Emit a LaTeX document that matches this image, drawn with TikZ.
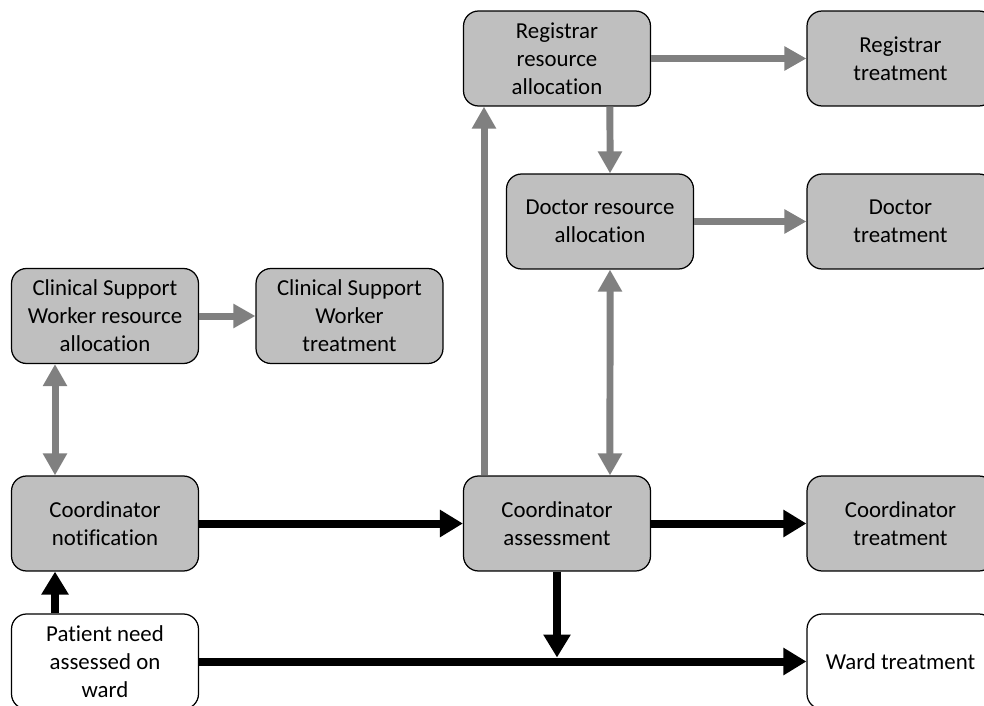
\documentclass[tikz,border=0pt]{standalone}
\usepackage{fontspec}
\setmainfont{Carlito}[Ligatures=NoCommon]
\usetikzlibrary{arrows.meta,positioning,calc}
\definecolor{boxgrey}{RGB}{191,191,191}
\definecolor{arrowgrey}{RGB}{128,128,128}

\begin{document}
\begin{tikzpicture}[x=0.02cm,y=-0.02cm]
		\clip (0,0) rectangle (984,706);
		\begin{scope}[every node/.style={rectangle,rounded corners=0.3cm,draw,line width=0.7pt,fill=boxgrey,minimum width=3.74cm,minimum height=1.9cm,align=center,inner sep=2pt,font=\fontsize{13}{15.9}\selectfont}]
			\node (ra) at (557,58.5) {Registrar\\resource\\allocation};
			\node (rt) at (900.5,58.5) {Registrar\\treatment};
			\node (da) at (600,221.5) {Doctor resource\\allocation};
			\node (dt) at (900.5,221.5) {Doctor\\treatment};

			\node (cswa) at (105,316) {Clinical Support\\Worker resource\\allocation};
			\node (cswt) at (349.5,316) {Clinical Support\\Worker\\treatment};

			\node (cn) at (105,523.5) {Coordinator\\notification};
			\node (ca) at (557,523.5) {Coordinator\\assessment};
			\node (ct) at (900.5,523.5) {Coordinator\\treatment};

			\node[fill=white] (pn) at (105,661.5) {Patient need\\assessed on\\ward};
			\node[fill=white] (wt) at (900.5,661.5) {Ward treatment};
		\end{scope}

		\begin{scope}[line width=0.14cm,arrowgrey,>={Triangle[length=0.44cm,width=0.46cm]}]
			\draw[->] (ra) -- (rt);
			\draw[->] (da) -- (dt);
			\draw[->] (cswa) -- (cswt);
			\draw[<->] ([xshift=-1cm]cswa.south) -- ([xshift=-1cm]cn.north);
			\draw[->] ([xshift=-1.46cm]ca.north) -- ([xshift=-1.46cm]ra.south);
			\draw[->] ([xshift=1.06cm]ra.south) -- ([xshift=0.2cm]da.north);
			\draw[<->] ([xshift=0.2cm]da.south) -- ([xshift=1.06cm]ca.north);
		\end{scope}

		\begin{scope}[line width=0.16cm,black,>={Triangle[length=0.46cm,width=0.52cm]}]
			\coordinate (join) at (ca.south |- pn.east);
			\draw[->] (cn) -- (ca);
			\draw[->] (ca) -- (ct);
			\draw[->] ([xshift=-1cm]pn.north) -- ([xshift=-1cm]cn.south);
			\draw[->] (pn) -- (wt);
			\draw[->] (ca.south) -- ([yshift=0.08cm]join);
		\end{scope}
	\end{tikzpicture}
\end{document}
